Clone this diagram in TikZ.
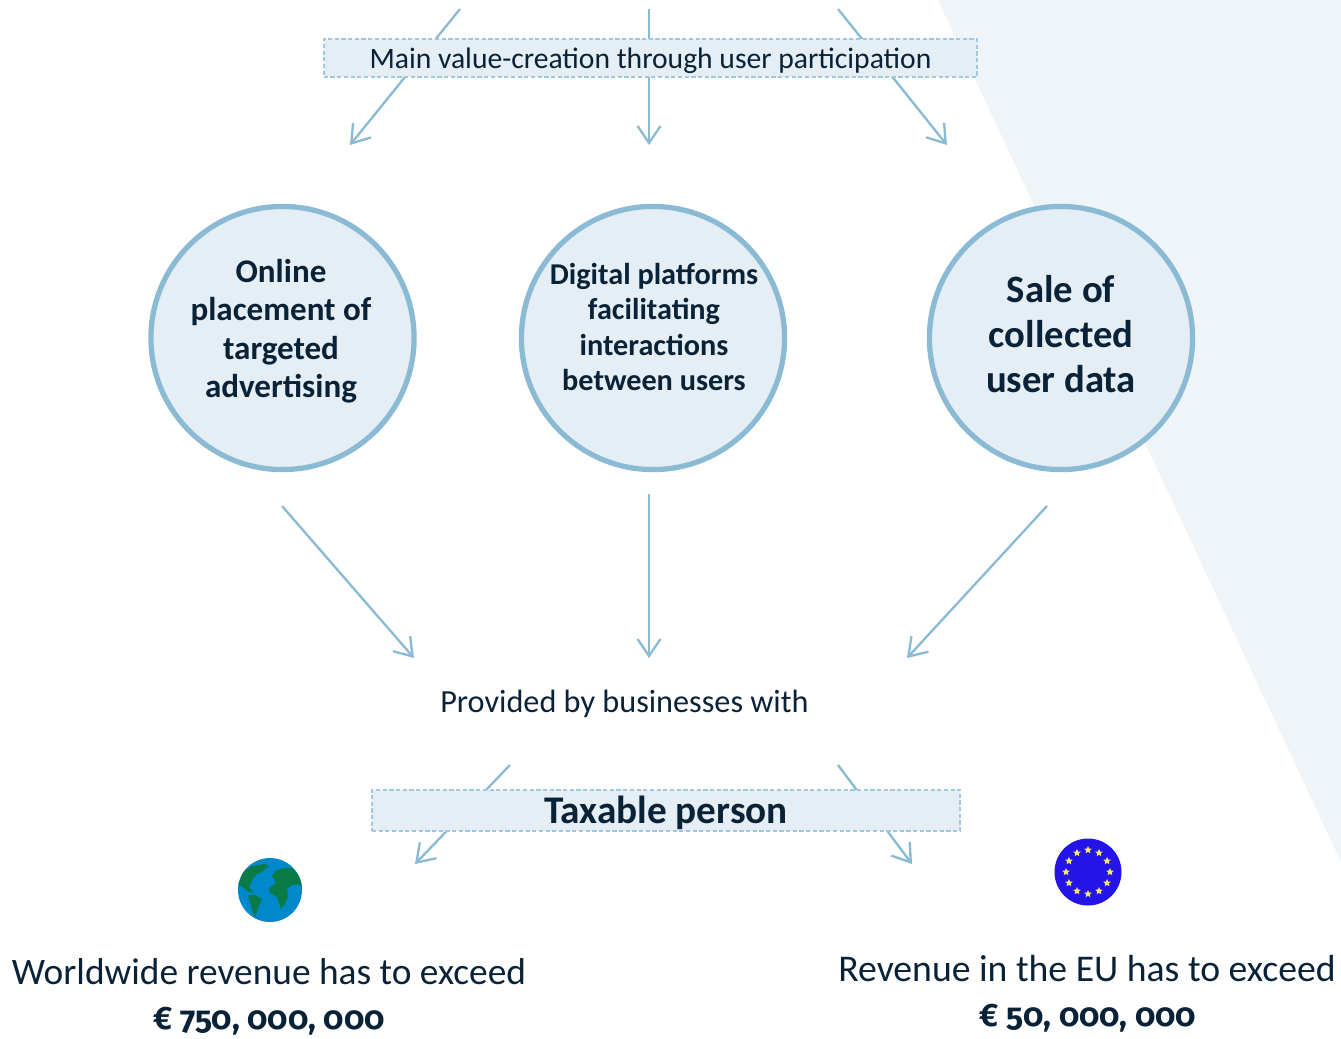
\documentclass[tikz,border=0pt]{standalone}
\usepackage{xcolor}
\usepackage{fontspec}
\setmainfont{Carlito}
\newfontfamily\sumfont[Numbers=OldStyle]{Fira Sans}
\usepackage{tikz}
\usetikzlibrary{shapes.geometric, arrows.meta, positioning, calc}
\definecolor{inkColor}{RGB}{10, 34, 56}
\definecolor{lineColor}{RGB}{138, 186, 212}
\definecolor{dashColor}{RGB}{160, 200, 222}
\definecolor{paleColor}{RGB}{228, 238, 244}
\definecolor{wedgeColor}{RGB}{238, 244, 247}
\definecolor{oceanColor}{RGB}{0, 136, 204}
\definecolor{landColor}{RGB}{10, 122, 70}
\definecolor{flagColor}{RGB}{36, 20, 232}
\definecolor{starColor}{RGB}{244, 232, 110}
\newcommand{\pxsize}[2]{\fontsize{#1}{#2}\selectfont}

\begin{document}
\begin{tikzpicture}[
    x=0.01cm, y=-0.01cm,
    topic/.style={circle, draw=lineColor, line width=1.5pt, fill=paleColor, minimum size=2.63cm, inner sep=0pt},
    banner/.style={rectangle, draw=dashColor, dash pattern=on 1.2pt off 0.7pt, line width=0.4pt, fill=paleColor, inner sep=0pt, text=inkColor, text depth=0pt},
    label/.style={inner sep=0pt, text=inkColor, align=center},
    arrow/.style={-{Straight Barb[length=1.7mm, width=2.3mm]}, draw=lineColor, line width=0.66pt},
    eustar/.style={star, star points=5, star point ratio=2.2, fill=starColor, inner sep=0pt, minimum size=0.08cm}
]
    \useasboundingbox (0,0) rectangle (1341,1038);

    % Background wedge
    \fill[wedgeColor] (938,0) -- (1341,0) -- (1341,862) -- cycle;

    % Arrow ends
    \coordinate (t1) at (460,9);
    \coordinate (t2) at (649,9);
    \coordinate (t3) at (838,9);
    \coordinate (h1) at (350,145);
    \coordinate (h2) at (649,145);
    \coordinate (h3) at (947,145);
    \coordinate (c1) at (282,506);
    \coordinate (c2) at (649,494);
    \coordinate (c3) at (1047,506);
    \coordinate (p1) at (414,658);
    \coordinate (p2) at (649,658);
    \coordinate (p3) at (907,658);
    \coordinate (w1) at (510,765);
    \coordinate (w2) at (838,765);
    \coordinate (r1) at (415,864);
    \coordinate (r2) at (912,864);

    % Arrows
    \draw[arrow] (t1) -- (h1);
    \draw[arrow] (t2) -- (h2);
    \draw[arrow] (t3) -- (h3);
    \draw[arrow] (c1) -- (p1);
    \draw[arrow] (c2) -- (p2);
    \draw[arrow] (c3) -- (p3);
    \draw[arrow] (w1) -- (r1);
    \draw[arrow] (w2) -- (r2);

    % Banners
    \node[banner, minimum width=6.53cm, minimum height=0.38cm, text height=6pt, font=\pxsize{8.42}{10}] (main) at (650.5,58) {Main value-creation through user participation};
    \node[banner, minimum width=5.88cm, minimum height=0.41cm, text height=7.1pt, font=\bfseries\pxsize{11.15}{13}] (taxable) at (666,810.5) {Taxable person};

    % Circles
    \node[topic] (online) at (282.5,338) {};
    \node[topic] (digital) at (653,338) {};
    \node[topic] (sale) at (1061,338) {};
    \node[label, font=\bfseries\pxsize{9.4}{10.95}] (onlinetext) at (281,331) {Online\\placement of\\targeted\\advertising};
    \node[label, font=\bfseries\pxsize{8.6}{9.96}] (digitaltext) at (654,327) {Digital platforms\\facilitating\\interactions\\between users};
    \node[label, font=\bfseries\pxsize{11}{12.8}] (saletext) at (1061,334.5) {Sale of\\collected\\user data};

    % Text
    \node[label, font=\pxsize{9.17}{11}] (provided) at (624.5,704) {Provided by businesses with};
    \node[label, font=\pxsize{10.63}{13}] (world) at (269,972) {Worldwide revenue has to exceed};
    \node[label, font=\sumfont\bfseries\pxsize{9.2}{12}] (worldsum) at (269,1021) {€ 750, 000, 000};
    \node[label, font=\pxsize{10.72}{13}] (europe) at (1087,969) {Revenue in the EU has to exceed};
    \node[label, font=\sumfont\bfseries\pxsize{9.2}{12}] (europesum) at (1088,1018) {€ 50, 000, 000};

    % Globe
    \fill[oceanColor] (270,890) circle (32);
    \begin{scope}
        \clip (270,890) circle (32);
        \fill[landColor] (238,885) -- (243,872) -- (252,866) -- (264,864) -- (269,866) -- (262,872) -- (257,874) -- (252,880) -- (249,887) -- (254,893) -- (247,891) -- (243,887) -- cycle;
        \fill[landColor] (248,895) -- (255,895) -- (262,899) -- (258,908) -- (255,918) -- (251,906) -- cycle;
        \fill[landColor] (269,888) -- (276,883) -- (272,876) -- (275,871) -- (284,868) -- (292,868) -- (300,876) -- (304,888) -- (298,884) -- (290,886) -- (287,889) -- (288,896) -- (285,904) -- (281,909) -- (277,897) -- (270,893) -- cycle;
    \end{scope}

    % Flag
    \fill[flagColor] (1088,872) circle (33.5);
    \foreach \i in {1,...,12}
        \node[eustar] (star\i) at ($(1088,872)+(30*\i:22)$) {};
\end{tikzpicture}
\end{document}
